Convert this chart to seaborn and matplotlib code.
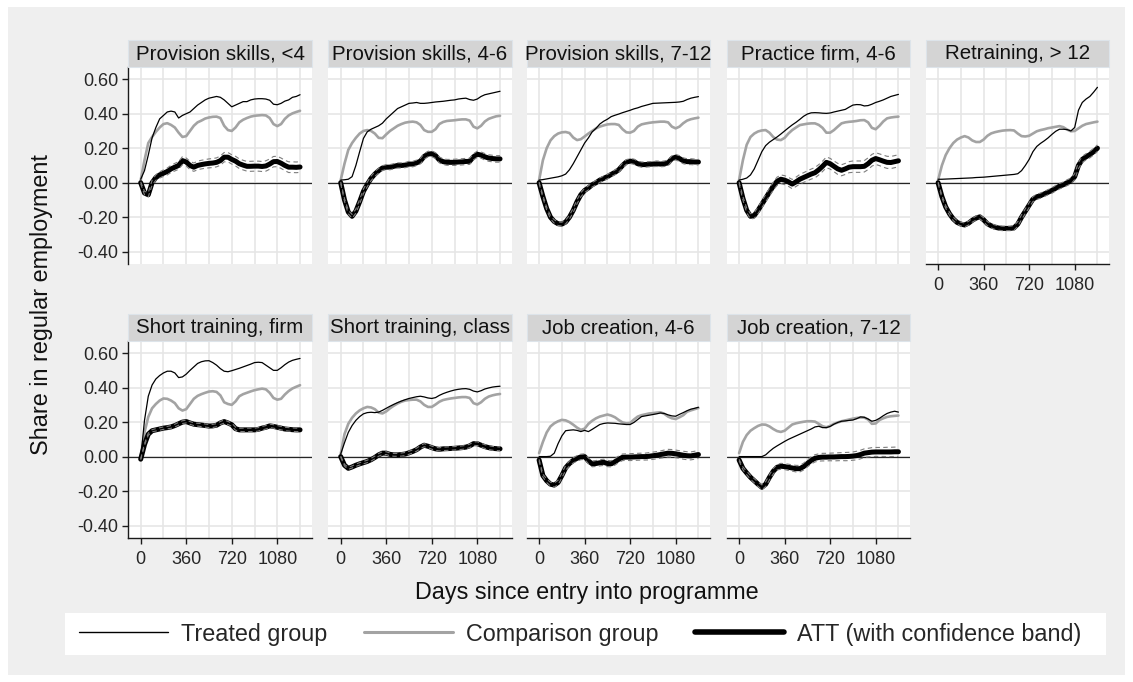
import numpy as np
import pandas as pd
import matplotlib
matplotlib.use("Agg")
import matplotlib.pyplot as plt
import seaborn as sns
from matplotlib.patches import Rectangle
from matplotlib.lines import Line2D
from matplotlib.ticker import FixedLocator, FixedFormatter

sns.set_style("white")
plt.rcParams["font.family"] = ["Liberation Sans", "DejaVu Sans"]

# ---------------- data ----------------
days = list(range(0, 1261, 30))

titles = ["Provision skills, <4", "Provision skills, 4-6", "Provision skills, 7-12",
          "Practice firm, 4-6", "Retraining, > 12", "Short training, firm",
          "Short training, class", "Job creation, 4-6", "Job creation, 7-12"]

xtick_vals = [0, 360, 720, 1080]
xtick_labels = ["0", "360", "720", "1080"]
ytick_vals = [-0.4, -0.2, 0.0, 0.2, 0.4, 0.6]
ytick_labels = ["-0.40", "-0.20", "0.00", "0.20", "0.40", "0.60"]
legend_labels = ["Treated group", "Comparison group", "ATT (with confidence band)"]

# Provision skills, <4
t1 = [0.02,0.07,0.16,0.26,0.32,0.37,0.39,0.41,0.415,0.41,0.375,0.39,
      0.40,0.41,0.43,0.45,0.465,0.48,0.49,0.495,0.50,0.495,0.48,0.46,
      0.44,0.45,0.46,0.47,0.47,0.48,0.485,0.487,0.487,0.485,0.478,0.455,
      0.452,0.46,0.473,0.48,0.495,0.50,0.51]
c1 = [0.015,0.13,0.23,0.265,0.295,0.32,0.34,0.345,0.335,0.32,0.29,0.265,
      0.27,0.30,0.33,0.35,0.36,0.372,0.378,0.382,0.383,0.375,0.33,0.305,
      0.30,0.32,0.35,0.365,0.375,0.383,0.388,0.39,0.392,0.39,0.375,0.34,
      0.328,0.34,0.37,0.39,0.402,0.41,0.417]
a1 = [0.0,-0.06,-0.07,0.0,0.03,0.045,0.055,0.065,0.08,0.09,0.10,0.128,
      0.12,0.10,0.09,0.10,0.105,0.109,0.112,0.114,0.118,0.128,0.148,0.148,
      0.135,0.125,0.11,0.102,0.095,0.095,0.096,0.096,0.094,0.097,0.108,0.122,
      0.123,0.113,0.10,0.09,0.09,0.089,0.091]
ci1 = [0.005,0.01,0.012,0.014,0.016,0.018,0.019,0.02,0.021,0.022,0.022,0.023,
       0.023,0.024,0.024,0.025,0.025,0.025,0.026,0.026,0.026,0.027,0.027,0.027,
       0.027,0.028,0.028,0.028,0.028,0.029,0.029,0.029,0.029,0.03,0.03,0.03,
       0.03,0.03,0.03,0.031,0.031,0.031,0.031]

# Provision skills, 4-6
t2 = [0.015,0.017,0.02,0.035,0.10,0.18,0.257,0.295,0.31,0.32,0.33,0.345,
      0.37,0.39,0.41,0.43,0.44,0.45,0.46,0.462,0.465,0.46,0.46,0.462,
      0.465,0.468,0.47,0.472,0.475,0.478,0.48,0.485,0.488,0.49,0.482,0.478,
      0.485,0.50,0.51,0.515,0.52,0.525,0.53]
c2 = [0.015,0.11,0.19,0.23,0.26,0.285,0.30,0.305,0.30,0.285,0.26,0.258,
      0.28,0.30,0.315,0.33,0.34,0.348,0.352,0.354,0.35,0.335,0.305,0.295,
      0.295,0.31,0.34,0.352,0.358,0.36,0.362,0.365,0.367,0.367,0.36,0.325,
      0.315,0.33,0.355,0.37,0.378,0.385,0.388]
a2 = [0.0,-0.10,-0.17,-0.195,-0.165,-0.11,-0.05,-0.01,0.025,0.05,0.07,0.085,
      0.09,0.09,0.095,0.10,0.10,0.102,0.108,0.108,0.115,0.125,0.152,0.166,
      0.168,0.157,0.132,0.122,0.118,0.118,0.118,0.12,0.121,0.123,0.124,0.15,
      0.165,0.16,0.15,0.143,0.14,0.138,0.138]
ci2 = [0.005,0.008,0.01,0.011,0.012,0.012,0.013,0.013,0.013,0.014,0.014,0.014,
       0.014,0.015,0.015,0.015,0.015,0.015,0.016,0.016,0.016,0.016,0.016,0.016,
       0.017,0.017,0.017,0.017,0.017,0.017,0.018,0.018,0.018,0.018,0.018,0.018,
       0.018,0.018,0.019,0.019,0.019,0.019,0.019]

# Provision skills, 7-12
t3 = [0.015,0.018,0.022,0.026,0.03,0.034,0.04,0.05,0.075,0.11,0.15,0.19,
      0.23,0.26,0.295,0.315,0.34,0.356,0.368,0.383,0.391,0.398,0.406,0.413,
      0.42,0.428,0.434,0.442,0.448,0.454,0.46,0.461,0.462,0.463,0.464,0.465,
      0.466,0.468,0.472,0.482,0.49,0.495,0.499]
c3 = [0.015,0.13,0.20,0.245,0.27,0.285,0.292,0.294,0.288,0.262,0.247,0.252,
      0.268,0.285,0.30,0.315,0.325,0.332,0.338,0.34,0.34,0.335,0.31,0.292,
      0.29,0.30,0.325,0.338,0.343,0.347,0.35,0.352,0.354,0.354,0.35,0.325,
      0.315,0.325,0.345,0.36,0.368,0.373,0.377]
a3 = [0.0,-0.08,-0.15,-0.20,-0.225,-0.238,-0.24,-0.228,-0.20,-0.16,-0.11,-0.07,
      -0.045,-0.03,-0.012,0.0,0.015,0.025,0.035,0.048,0.06,0.075,0.10,0.12,
      0.125,0.122,0.11,0.105,0.105,0.107,0.108,0.11,0.108,0.11,0.115,0.14,
      0.148,0.14,0.127,0.122,0.122,0.12,0.12]
ci3 = [0.004,0.007,0.008,0.009,0.01,0.01,0.011,0.011,0.011,0.012,0.012,0.012,
       0.012,0.012,0.013,0.013,0.013,0.013,0.013,0.014,0.014,0.014,0.014,0.014,
       0.014,0.015,0.015,0.015,0.015,0.015,0.015,0.016,0.016,0.016,0.016,0.016,
       0.016,0.017,0.017,0.017,0.017,0.017,0.017]

# Practice firm, 4-6
t4 = [0.015,0.02,0.027,0.045,0.08,0.13,0.18,0.215,0.235,0.25,0.265,0.282,
      0.30,0.318,0.335,0.35,0.367,0.385,0.398,0.405,0.406,0.405,0.403,0.402,
      0.404,0.41,0.415,0.42,0.425,0.438,0.45,0.453,0.452,0.445,0.447,0.455,
      0.465,0.472,0.48,0.49,0.50,0.506,0.512]
c4 = [0.015,0.13,0.22,0.265,0.285,0.297,0.303,0.305,0.29,0.265,0.25,0.247,
      0.26,0.285,0.305,0.32,0.334,0.338,0.342,0.344,0.344,0.335,0.318,0.29,
      0.29,0.305,0.325,0.344,0.35,0.353,0.355,0.358,0.362,0.363,0.35,0.318,
      0.31,0.33,0.355,0.373,0.378,0.381,0.383]
a4 = [0.0,-0.09,-0.16,-0.195,-0.19,-0.16,-0.125,-0.09,-0.055,-0.02,0.008,0.02,
      0.015,0.005,-0.008,0.005,0.02,0.03,0.04,0.05,0.058,0.075,0.095,0.118,
      0.11,0.095,0.08,0.072,0.08,0.09,0.093,0.093,0.093,0.095,0.11,0.13,
      0.14,0.133,0.125,0.118,0.117,0.122,0.127]
ci4 = [0.005,0.01,0.013,0.015,0.017,0.019,0.02,0.021,0.022,0.023,0.024,0.025,
       0.026,0.026,0.027,0.027,0.028,0.028,0.029,0.029,0.03,0.03,0.03,0.031,
       0.031,0.031,0.032,0.032,0.032,0.032,0.033,0.033,0.033,0.033,0.034,0.034,
       0.034,0.034,0.035,0.035,0.035,0.035,0.035]

# Retraining, > 12
t5 = [0.02,0.02,0.021,0.022,0.023,0.024,0.025,0.026,0.027,0.028,0.03,0.031,
      0.032,0.034,0.036,0.038,0.04,0.042,0.044,0.046,0.048,0.052,0.07,0.10,
      0.135,0.18,0.21,0.228,0.243,0.26,0.28,0.298,0.31,0.31,0.308,0.30,
      0.32,0.42,0.465,0.485,0.50,0.525,0.553]
c5 = [0.015,0.10,0.16,0.20,0.23,0.25,0.262,0.27,0.262,0.245,0.236,0.236,
      0.25,0.272,0.286,0.293,0.298,0.302,0.304,0.305,0.303,0.285,0.27,0.268,
      0.272,0.285,0.298,0.305,0.31,0.316,0.32,0.324,0.328,0.322,0.308,0.298,
      0.30,0.315,0.33,0.34,0.345,0.35,0.354]
a5 = [0.0,-0.08,-0.14,-0.18,-0.21,-0.23,-0.24,-0.245,-0.235,-0.218,-0.205,-0.198,
      -0.215,-0.238,-0.25,-0.258,-0.263,-0.265,-0.265,-0.265,-0.262,-0.24,-0.20,-0.165,
      -0.13,-0.095,-0.082,-0.075,-0.065,-0.055,-0.045,-0.032,-0.02,-0.012,0.0,0.01,
      0.035,0.10,0.135,0.15,0.163,0.18,0.20]
ci5 = [0.004,0.007,0.008,0.009,0.01,0.01,0.011,0.011,0.011,0.011,0.012,0.012,
       0.012,0.012,0.012,0.013,0.013,0.013,0.013,0.013,0.013,0.014,0.014,0.014,
       0.014,0.014,0.015,0.015,0.015,0.015,0.016,0.016,0.016,0.016,0.017,0.017,
       0.017,0.018,0.018,0.018,0.019,0.019,0.019]

# Short training, firm
t6 = [-0.01,0.21,0.35,0.415,0.45,0.47,0.485,0.495,0.495,0.485,0.458,0.462,
      0.478,0.50,0.52,0.54,0.55,0.555,0.556,0.545,0.53,0.51,0.495,0.492,
      0.498,0.505,0.512,0.52,0.528,0.536,0.545,0.547,0.545,0.53,0.515,0.50,
      0.50,0.515,0.533,0.548,0.558,0.564,0.569]
c6 = [-0.005,0.14,0.23,0.28,0.305,0.325,0.337,0.335,0.325,0.31,0.28,0.267,
      0.275,0.305,0.335,0.352,0.362,0.37,0.377,0.379,0.375,0.355,0.315,0.305,
      0.30,0.32,0.35,0.362,0.37,0.378,0.385,0.39,0.394,0.39,0.37,0.34,
      0.33,0.335,0.36,0.38,0.395,0.405,0.414]
a6 = [-0.015,0.07,0.13,0.15,0.155,0.16,0.165,0.168,0.172,0.18,0.19,0.2,
      0.203,0.195,0.188,0.185,0.183,0.18,0.177,0.178,0.182,0.195,0.203,0.195,
      0.185,0.162,0.155,0.155,0.155,0.155,0.155,0.158,0.165,0.17,0.178,0.175,
      0.17,0.165,0.16,0.158,0.156,0.155,0.155]
ci6 = [0.003,0.005,0.006,0.006,0.007,0.007,0.007,0.007,0.008,0.008,0.008,0.008,
       0.008,0.008,0.008,0.008,0.009,0.009,0.009,0.009,0.009,0.009,0.009,0.009,
       0.009,0.009,0.009,0.01,0.01,0.01,0.01,0.01,0.01,0.01,0.01,0.01,
       0.01,0.01,0.01,0.01,0.01,0.01,0.01]

# Short training, class
t7 = [0.015,0.08,0.14,0.18,0.21,0.232,0.248,0.255,0.257,0.255,0.258,0.268,
      0.28,0.292,0.303,0.313,0.322,0.33,0.337,0.342,0.347,0.35,0.346,0.34,
      0.337,0.342,0.355,0.365,0.373,0.38,0.386,0.39,0.393,0.394,0.39,0.38,
      0.375,0.382,0.392,0.398,0.403,0.406,0.408]
c7 = [0.015,0.13,0.19,0.225,0.25,0.268,0.28,0.288,0.285,0.275,0.255,0.25,
      0.262,0.28,0.295,0.308,0.318,0.325,0.328,0.33,0.33,0.32,0.30,0.288,
      0.288,0.302,0.318,0.328,0.333,0.337,0.34,0.343,0.345,0.345,0.34,0.31,
      0.302,0.315,0.335,0.348,0.355,0.36,0.363]
a7 = [0.0,-0.05,-0.068,-0.06,-0.05,-0.042,-0.035,-0.028,-0.018,-0.005,0.01,0.02,
      0.02,0.013,0.01,0.01,0.012,0.015,0.022,0.03,0.04,0.055,0.066,0.06,
      0.052,0.045,0.042,0.045,0.046,0.047,0.048,0.05,0.052,0.055,0.062,0.075,
      0.075,0.066,0.058,0.052,0.048,0.046,0.045]
ci7 = [0.003,0.005,0.006,0.006,0.007,0.007,0.007,0.007,0.008,0.008,0.008,0.008,
       0.008,0.008,0.008,0.008,0.009,0.009,0.009,0.009,0.009,0.009,0.009,0.009,
       0.009,0.009,0.009,0.01,0.01,0.01,0.01,0.01,0.01,0.01,0.01,0.01,
       0.011,0.011,0.011,0.011,0.011,0.011,0.011]

# Job creation, 4-6
t8 = [0.0,0.0,0.0,0.002,0.02,0.075,0.12,0.15,0.153,0.155,0.152,0.145,
      0.152,0.145,0.158,0.172,0.186,0.192,0.195,0.194,0.193,0.19,0.188,0.186,
      0.186,0.198,0.215,0.232,0.236,0.24,0.244,0.248,0.253,0.25,0.242,0.236,
      0.234,0.245,0.255,0.266,0.275,0.28,0.286]
c8 = [0.02,0.085,0.14,0.175,0.193,0.205,0.213,0.21,0.2,0.185,0.168,0.155,
      0.162,0.19,0.208,0.222,0.232,0.238,0.244,0.238,0.228,0.212,0.198,0.193,
      0.195,0.215,0.232,0.24,0.245,0.25,0.252,0.255,0.257,0.248,0.232,0.222,
      0.218,0.228,0.24,0.26,0.268,0.275,0.282]
a8 = [-0.02,-0.11,-0.14,-0.16,-0.165,-0.15,-0.11,-0.065,-0.04,-0.022,-0.01,-0.002,
      0.0,-0.025,-0.042,-0.04,-0.036,-0.033,-0.04,-0.042,-0.03,-0.015,-0.004,-0.003,
      -0.003,-0.002,-0.001,0.0,0.0,0.002,0.005,0.008,0.012,0.016,0.02,0.019,
      0.016,0.012,0.008,0.005,0.004,0.008,0.012]
ci8 = [0.004,0.008,0.01,0.011,0.012,0.013,0.014,0.014,0.015,0.015,0.016,0.016,
       0.016,0.017,0.017,0.017,0.018,0.018,0.018,0.018,0.019,0.019,0.019,0.019,
       0.02,0.02,0.02,0.02,0.02,0.021,0.021,0.021,0.021,0.022,0.022,0.022,
       0.022,0.022,0.023,0.023,0.023,0.023,0.023]

# Job creation, 7-12
t9 = [0.0,0.0,0.0,0.0,0.0,0.0,0.0,0.01,0.03,0.048,0.062,0.075,
      0.088,0.10,0.11,0.12,0.13,0.14,0.15,0.16,0.172,0.176,0.168,0.168,
      0.175,0.188,0.198,0.205,0.207,0.21,0.212,0.22,0.23,0.228,0.218,0.205,
      0.21,0.222,0.237,0.25,0.258,0.263,0.258]
c9 = [0.02,0.085,0.125,0.15,0.165,0.178,0.186,0.185,0.175,0.16,0.148,0.143,
      0.15,0.168,0.186,0.193,0.198,0.202,0.205,0.205,0.203,0.19,0.176,0.17,
      0.178,0.19,0.198,0.205,0.21,0.215,0.22,0.224,0.227,0.226,0.215,0.19,
      0.192,0.212,0.222,0.23,0.234,0.236,0.238]
a9 = [-0.02,-0.068,-0.095,-0.12,-0.14,-0.16,-0.178,-0.16,-0.12,-0.085,-0.062,-0.056,
      -0.058,-0.062,-0.066,-0.07,-0.07,-0.058,-0.04,-0.022,-0.01,-0.005,-0.003,-0.003,
      -0.002,-0.002,-0.001,0.0,0.0,0.001,0.003,0.006,0.012,0.02,0.023,0.026,
      0.027,0.027,0.027,0.027,0.027,0.028,0.028]
ci9 = [0.004,0.008,0.01,0.011,0.012,0.013,0.014,0.014,0.015,0.016,0.016,0.017,
       0.017,0.018,0.018,0.019,0.019,0.02,0.02,0.021,0.021,0.021,0.022,0.022,
       0.022,0.023,0.023,0.023,0.024,0.024,0.024,0.025,0.025,0.025,0.025,0.026,
       0.026,0.026,0.026,0.027,0.027,0.027,0.027]

treated = [t1, t2, t3, t4, t5, t6, t7, t8, t9]
comparison = [c1, c2, c3, c4, c5, c6, c7, c8, c9]
att = [a1, a2, a3, a4, a5, a6, a7, a8, a9]
ci_half = [ci1, ci2, ci3, ci4, ci5, ci6, ci7, ci8, ci9]

# ---------------- layout ----------------
W, H = 1133, 682
fig = plt.figure(figsize=(W / 100, H / 100), dpi=100, facecolor="white")

fig.patches.append(Rectangle((8 / W, 1 - 675 / H), (1125 - 8) / W, (675 - 7) / H,
                             transform=fig.transFigure, facecolor="#efefef",
                             edgecolor="none", zorder=-10))

col_left = [128.3, 328.3, 526.7, 726.7, 925.7]
row_top = [67.3, 341.2]
ax_w, ax_h = 183.5, 196.3
title_h = 26.8

TICK_FS = 13.0
TITLE_FS = 14.8
LABEL_FS = 16.8

for i in range(9):
    r, c = divmod(i, 5)
    left, top = col_left[c], row_top[r]
    ax = fig.add_axes([left / W, 1 - (top + ax_h) / H, ax_w / W, ax_h / H])
    ax.set_facecolor("white")

    df = pd.DataFrame({"day": days, "treated": treated[i], "comparison": comparison[i],
                       "att": att[i], "ci": ci_half[i]})
    df["lo"] = df["att"] - df["ci"]
    df["hi"] = df["att"] + df["ci"]

    ax.axhline(0, color="#262626", lw=0.9, zorder=1.5)
    sns.lineplot(data=df, x="day", y="comparison", ax=ax, color="#a3a3a3", lw=1.9,
                 errorbar=None, legend=False, zorder=3)
    sns.lineplot(data=df, x="day", y="treated", ax=ax, color="black", lw=0.9,
                 errorbar=None, legend=False, zorder=3.5)
    sns.lineplot(data=df, x="day", y="att", ax=ax, color="black", lw=3.6,
                 errorbar=None, legend=False, zorder=4, solid_capstyle="round",
                 solid_joinstyle="round")
    for col in ["lo", "hi"]:
        sns.lineplot(data=df, x="day", y=col, ax=ax, color="#7d7d7d", lw=0.8,
                     errorbar=None, legend=False, zorder=5)
        ax.lines[-1].set_dashes([4, 3])

    ax.set_xlim(-98, 1353)
    ax.set_ylim(-0.469, 0.669)
    ax.xaxis.set_major_locator(FixedLocator(xtick_vals))
    ax.xaxis.set_major_formatter(FixedFormatter(xtick_labels))
    ax.xaxis.set_minor_locator(FixedLocator([180, 540, 900, 1260]))
    ax.yaxis.set_major_locator(FixedLocator(ytick_vals))
    ax.yaxis.set_major_formatter(FixedFormatter(ytick_labels))
    ax.grid(True, which="both", color="#e6e6e6", lw=1.2, zorder=0)
    ax.set_axisbelow(True)
    ax.set_xlabel("")
    ax.set_ylabel("")

    for s in ["top", "right"]:
        ax.spines[s].set_visible(False)
    show_left = (c == 0)
    show_bottom = (r == 1) or (c == 4)
    ax.spines["left"].set_visible(show_left)
    ax.spines["bottom"].set_visible(show_bottom)
    for s in ["left", "bottom"]:
        ax.spines[s].set_color("#1a1a1a")
        ax.spines[s].set_linewidth(1.0)

    ax.tick_params(axis="y", which="major", left=show_left, labelleft=show_left,
                   length=4.1, width=1.0, color="#1a1a1a", pad=3.0, labelsize=TICK_FS)
    ax.tick_params(axis="x", which="major", bottom=show_bottom, labelbottom=show_bottom,
                   length=4.1, width=1.0, color="#1a1a1a", pad=5.5, labelsize=TICK_FS)
    ax.tick_params(axis="both", which="minor", length=0)

    # panel title strip
    ax.add_patch(Rectangle((0, 1), 1, title_h / ax_h, transform=ax.transAxes,
                           facecolor="#d4d4d4", edgecolor="#dde4ea", lw=0.8,
                           clip_on=False, zorder=6))
    ax.text(0.5, 1 + title_h / ax_h / 2, titles[i], transform=ax.transAxes,
            ha="center", va="center", fontsize=TITLE_FS, color="#111111", zorder=7)

fig.text(42 / W, 1 - 305 / H, "Share in regular employment", rotation=90,
         ha="center", va="center", fontsize=LABEL_FS, color="#111111")
fig.text(587 / W, 1 - 592 / H, "Days since entry into programme",
         ha="center", va="center", fontsize=LABEL_FS, color="#111111")

# legend
fig.patches.append(Rectangle((65 / W, 1 - 655 / H), (1106 - 65) / W, (655 - 613) / H,
                             transform=fig.transFigure, facecolor="white",
                             edgecolor="none", zorder=-5))
handles = [Line2D([], [], color="black", lw=1.0),
           Line2D([], [], color="#a3a3a3", lw=2.2),
           Line2D([], [], color="black", lw=4.0, solid_capstyle="round")]
fig.legend(handles, legend_labels, loc="center", bbox_to_anchor=(580.5 / W, 1 - 634 / H),
           ncol=3, frameon=False, fontsize=LABEL_FS, handlelength=3.8,
           handletextpad=0.56, columnspacing=1.58, borderpad=0, borderaxespad=0)

fig.savefig("out.png", dpi=100, facecolor="white")
